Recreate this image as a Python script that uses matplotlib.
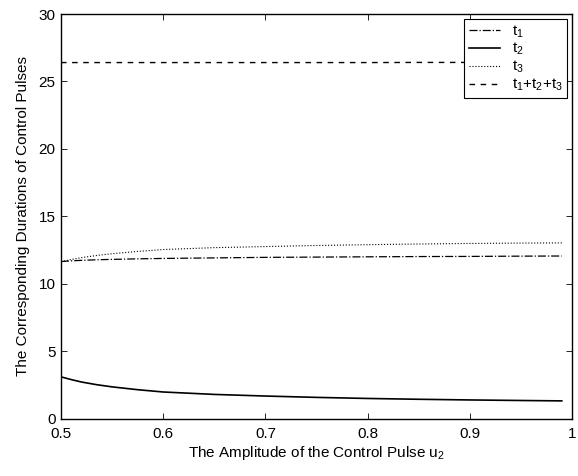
import matplotlib
matplotlib.use("Agg")
import matplotlib.pyplot as plt
import numpy as np

plt.rcParams["font.family"] = ["Liberation Sans", "DejaVu Sans"]
plt.rcParams["mathtext.fontset"] = "custom"
plt.rcParams["mathtext.rm"] = "Liberation Sans"
plt.rcParams["mathtext.it"] = "Liberation Sans"
plt.rcParams["mathtext.default"] = "rm"

# amplitude of the control pulse u2
u2 = [0.5, 0.51, 0.52, 0.535, 0.55, 0.575, 0.6, 0.65, 0.7, 0.75, 0.8, 0.85, 0.9, 0.95, 0.99]
t1 = [11.65, 11.70, 11.74, 11.78, 11.81, 11.85, 11.88, 11.92, 11.96, 11.98, 12.0, 12.02, 12.03, 12.05, 12.06]
t2 = [3.10, 2.90, 2.72, 2.52, 2.36, 2.15, 1.98, 1.80, 1.68, 1.58, 1.50, 1.44, 1.39, 1.35, 1.32]
t3 = [11.65, 11.80, 11.94, 12.10, 12.23, 12.40, 12.54, 12.68, 12.76, 12.84, 12.90, 12.95, 12.99, 13.02, 13.03]
total = np.array(t1) + np.array(t2) + np.array(t3)

fig = plt.figure(figsize=(5.78, 4.76), dpi=100)
ax = fig.add_axes([61 / 578, 1 - 418.7 / 476, (572 - 61) / 578, (418.7 - 14) / 476])

ax.plot(u2, t1, color="black", linestyle="-.", linewidth=0.9, label="t$_1$")
ax.plot(u2, t2, color="black", linestyle="-", linewidth=1.2, label="t$_2$")
ax.plot(u2, t3, color="black", linestyle=":", linewidth=0.8, label="t$_3$")
ax.plot(u2, total, color="black", linestyle=(0, (4, 4)), linewidth=1.0, label="t$_1$+t$_2$+t$_3$")

ax.set_xlim(0.5, 1)
ax.set_ylim(0, 30)
ax.set_xticks([0.5, 0.6, 0.7, 0.8, 0.9, 1.0])
ax.set_xticklabels(["0.5", "0.6", "0.7", "0.8", "0.9", "1"])
ax.set_yticks(range(0, 31, 5))
ax.tick_params(direction="in", top=True, right=True, labelsize=11, length=4, width=0.6)
ax.tick_params(axis="x", pad=6)
ax.tick_params(axis="y", pad=4)
for s in ax.spines.values():
    s.set_linewidth(1.0)

ax.set_xlabel("The Amplitude of the Control Pulse u$_2$", fontsize=11, labelpad=2)
ax.set_ylabel("The Corresponding Durations of Control Pulses", fontsize=11, labelpad=6)

leg = ax.legend(loc="upper right", fontsize=11, frameon=True, fancybox=False,
                handlelength=2.0, handletextpad=0.8, borderpad=0.3, labelspacing=0.1,
                borderaxespad=0.3)
leg.get_frame().set_edgecolor("black")
leg.get_frame().set_linewidth(0.8)
leg.get_frame().set_alpha(1)

fig.savefig("out.png", dpi=100)
